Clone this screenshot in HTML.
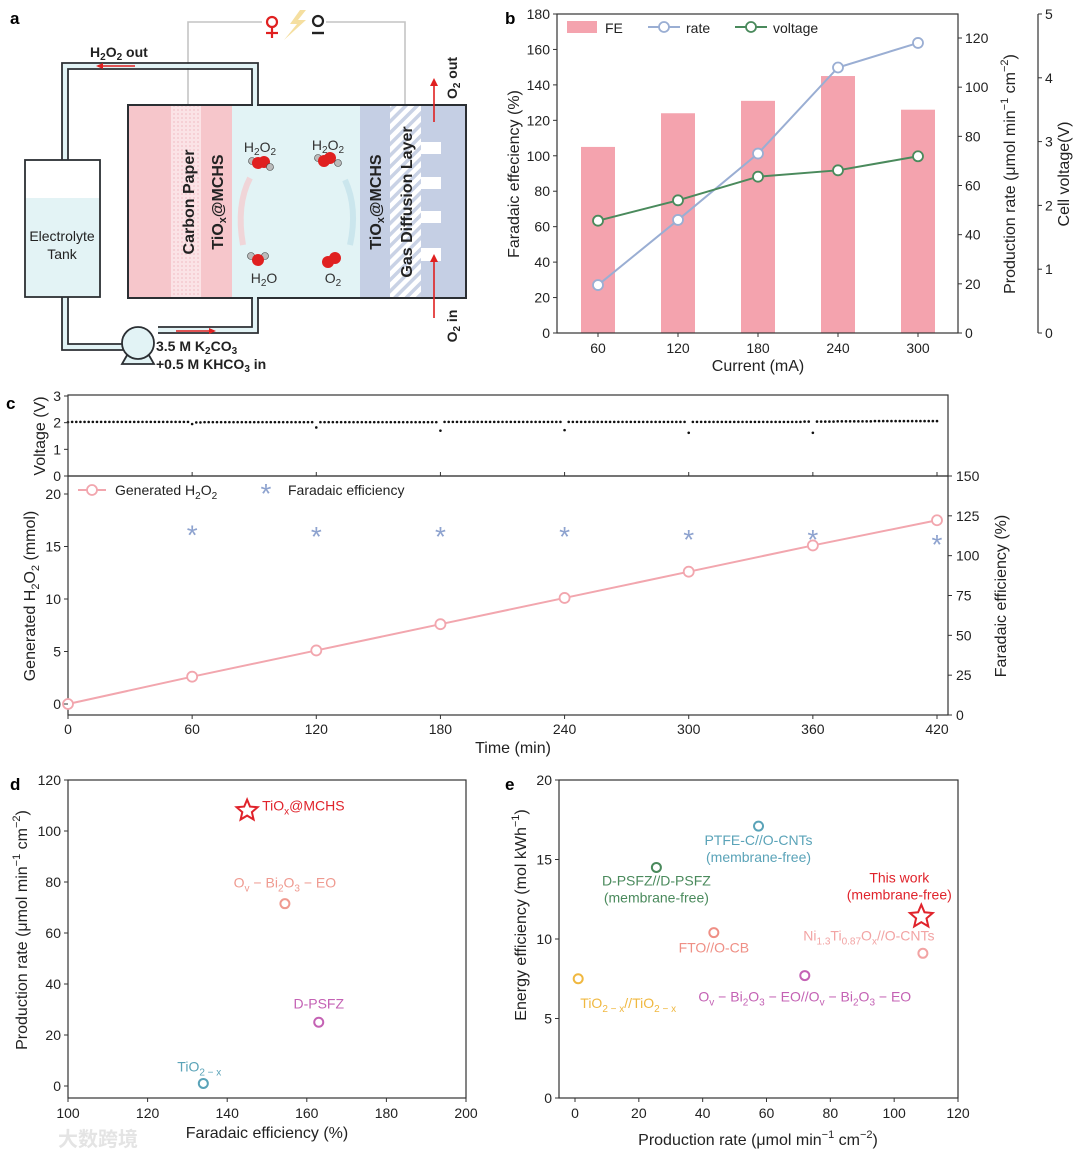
<!DOCTYPE html>
<html><head><meta charset="utf-8">
<style>
html,body{margin:0;padding:0;background:#fff;}
svg{display:block;font-family:"Liberation Sans","Noto Sans CJK SC",sans-serif;}
</style></head>
<body>
<svg id="fig" width="1080" height="1158" viewBox="0 0 1080 1158" xmlns="http://www.w3.org/2000/svg">
<defs>
<pattern id="hatch" width="8" height="8" patternUnits="userSpaceOnUse" patternTransform="rotate(45)">
<rect width="8" height="8" fill="#fff"/><rect width="3.5" height="8" fill="#c9d2e5"/></pattern>
<pattern id="dots" width="4" height="4" patternUnits="userSpaceOnUse">
<rect width="4" height="4" fill="#fbe3e6"/><circle cx="2" cy="2" r="0.9" fill="#f3c3c9"/></pattern>
</defs>

<!-- ================= PANEL A ================= -->
<g>
<text x="10" y="24" font-size="17" font-weight="bold">a</text>
<polyline points="188,105 188,22 262,22" fill="none" stroke="#c4c4c4" stroke-width="1.6"/>
<polyline points="326,22 405,22 405,105" fill="none" stroke="#c4c4c4" stroke-width="1.6"/>
<g>
<circle cx="272" cy="22" r="5" fill="none" stroke="#e02020" stroke-width="2.2"/>
<line x1="272" y1="27" x2="272" y2="38" stroke="#e02020" stroke-width="2.2"/>
<line x1="266" y1="33" x2="278" y2="33" stroke="#e02020" stroke-width="2.2"/>
<polygon points="300,10 290,24 297,24 284,40 306,20 298,20 306,10" fill="#f5dfa0"/>
<circle cx="318" cy="21" r="5" fill="none" stroke="#222" stroke-width="2.2"/>
<line x1="312" y1="33" x2="324" y2="33" stroke="#222" stroke-width="2.4"/>
</g>
<g fill="none" stroke="#2b2f33" stroke-width="1.8">
<path d="M62,160 V63 H258 V105" />
<path d="M68,160 V69 H252 V105" />
<path d="M252,298 V327 H158" />
<path d="M258,298 V333 H158" />
<path d="M62,297 V350 H125" />
<path d="M68,297 V344 H125" />
</g>
<path d="M65,160 V66 H255 V105 M255,298 V330 H158 M65,297 V347 H125" fill="none" stroke="#e2f3f5" stroke-width="4"/>
<line x1="135" y1="66" x2="98" y2="66" stroke="#e02020" stroke-width="1.5"/>
<polygon points="96,66 103,63 103,69" fill="#e02020"/>
<line x1="176" y1="331" x2="212" y2="331" stroke="#e02020" stroke-width="1.5"/>
<polygon points="216,331 209,328 209,334" fill="#e02020"/>
<text x="90" y="57" font-size="14" font-weight="bold" fill="#222">H<tspan font-size="10" dy="3">2</tspan><tspan dy="-3">O</tspan><tspan font-size="10" dy="3">2</tspan><tspan dy="-3"> out</tspan></text>
<g>
<rect x="25" y="160" width="75" height="137" fill="#fff" stroke="#2b2f33" stroke-width="1.8"/>
<rect x="26" y="198" width="73" height="98" fill="#e3f3f5"/>
<text x="62" y="241" font-size="14" text-anchor="middle" fill="#222">Electrolyte</text>
<text x="62" y="259" font-size="14" text-anchor="middle" fill="#222">Tank</text>
</g>
<g>
<polygon points="122,364 154,364 146,350 130,350" fill="#e2f3f5" stroke="#2b2f33" stroke-width="1.8"/>
<circle cx="138" cy="343" r="16" fill="#e2f3f5" stroke="#2b2f33" stroke-width="1.8"/>
</g>
<text x="156" y="351" font-size="14" font-weight="bold" fill="#222">3.5 M K<tspan font-size="10" dy="3">2</tspan><tspan dy="-3">CO</tspan><tspan font-size="10" dy="3">3</tspan></text>
<text x="156" y="369" font-size="14" font-weight="bold" fill="#222">+0.5 M KHCO<tspan font-size="10" dy="3">3</tspan><tspan dy="-3"> in</tspan></text>
<g>
<rect x="128" y="105" width="338" height="193" fill="#e2f3f5"/>
<rect x="128" y="105" width="43" height="193" fill="#f6c6cb"/>
<rect x="171" y="105" width="30" height="193" fill="url(#dots)"/>
<rect x="201" y="105" width="31" height="193" fill="#f6c6cb"/>
<rect x="360" y="105" width="30" height="193" fill="#c5cfe4"/>
<rect x="390" y="105" width="31" height="193" fill="url(#hatch)"/>
<rect x="421" y="105" width="45" height="193" fill="#c5cfe4"/>
<rect x="421" y="142" width="20" height="12" fill="#fff"/>
<rect x="421" y="177" width="20" height="12" fill="#fff"/>
<rect x="421" y="211" width="20" height="12" fill="#fff"/>
<rect x="421" y="248" width="20" height="13" fill="#fff"/>
<rect x="128" y="105" width="338" height="193" fill="none" stroke="#2b2f33" stroke-width="2"/>
<line x1="253" y1="105" x2="257" y2="105" stroke="#e2f3f5" stroke-width="3"/>
<line x1="253" y1="298" x2="257" y2="298" stroke="#e2f3f5" stroke-width="3"/>
</g>
<text transform="translate(194,202) rotate(-90)" font-size="16" font-weight="bold" text-anchor="middle" fill="#222">Carbon Paper</text>
<text transform="translate(223,202) rotate(-90)" font-size="16" font-weight="bold" text-anchor="middle" fill="#222">TiO<tspan font-size="11" dy="3">x</tspan><tspan dy="-3">@MCHS</tspan></text>
<text transform="translate(381,202) rotate(-90)" font-size="16" font-weight="bold" text-anchor="middle" fill="#222">TiO<tspan font-size="11" dy="3">x</tspan><tspan dy="-3">@MCHS</tspan></text>
<text transform="translate(412,202) rotate(-90)" font-size="16" font-weight="bold" text-anchor="middle" fill="#222">Gas Diffusion Layer</text>
<line x1="434" y1="122" x2="434" y2="84" stroke="#e02020" stroke-width="1.6"/>
<polygon points="434,78 430,86 438,86" fill="#e02020"/>
<line x1="434" y1="318" x2="434" y2="260" stroke="#e02020" stroke-width="1.6"/>
<polygon points="434,254 430,262 438,262" fill="#e02020"/>
<text transform="translate(457,78) rotate(-90)" font-size="14" font-weight="bold" text-anchor="middle" fill="#222">O<tspan font-size="10" dy="3">2</tspan><tspan dy="-3"> out</tspan></text>
<text transform="translate(457,326) rotate(-90)" font-size="14" font-weight="bold" text-anchor="middle" fill="#222">O<tspan font-size="10" dy="3">2</tspan><tspan dy="-3"> in</tspan></text>
<path d="M243,245 Q236,205 250,178" fill="none" stroke="#f4cdd1" stroke-width="6" opacity="0.8"/>
<path d="M350,245 Q358,208 345,180" fill="none" stroke="#c9e4ec" stroke-width="6" opacity="0.9"/>
<g>
<circle cx="252" cy="161" r="3.5" fill="#bbb" stroke="#444" stroke-width="0.6"/><circle cx="258" cy="163" r="6" fill="#e02020"/><circle cx="264" cy="162" r="6" fill="#e02020"/><circle cx="270" cy="167" r="3.5" fill="#bbb" stroke="#444" stroke-width="0.6"/>
</g>
<text x="260" y="152" font-size="14" text-anchor="middle" fill="#333">H<tspan font-size="10" dy="3">2</tspan><tspan dy="-3">O</tspan><tspan font-size="10" dy="3">2</tspan></text>
<g>
<circle cx="318" cy="158" r="3.5" fill="#bbb" stroke="#444" stroke-width="0.6"/><circle cx="324" cy="161" r="6" fill="#e02020"/><circle cx="330" cy="158" r="6" fill="#e02020"/><circle cx="338" cy="163" r="3.5" fill="#bbb" stroke="#444" stroke-width="0.6"/>
</g>
<text x="328" y="150" font-size="14" text-anchor="middle" fill="#333">H<tspan font-size="10" dy="3">2</tspan><tspan dy="-3">O</tspan><tspan font-size="10" dy="3">2</tspan></text>
<g>
<circle cx="251" cy="256" r="3.5" fill="#bbb" stroke="#444" stroke-width="0.6"/><circle cx="265" cy="256" r="3.5" fill="#bbb" stroke="#444" stroke-width="0.6"/><circle cx="258" cy="260" r="6" fill="#e02020"/>
</g>
<text x="264" y="283" font-size="14" text-anchor="middle" fill="#333">H<tspan font-size="10" dy="3">2</tspan><tspan dy="-3">O</tspan></text>
<g>
<circle cx="328" cy="262" r="6" fill="#e02020"/><circle cx="335" cy="258" r="6" fill="#e02020"/>
</g>
<text x="333" y="283" font-size="14" text-anchor="middle" fill="#333">O<tspan font-size="10" dy="3">2</tspan></text>
</g>

<text x="505" y="24" font-size="17" font-weight="bold">b</text>
<text x="6" y="409" font-size="17" font-weight="bold">c</text>
<text x="10" y="790" font-size="17" font-weight="bold">d</text>
<text x="505" y="790" font-size="17" font-weight="bold">e</text>
<text x="58" y="1146" font-size="20" font-weight="bold" fill="#e4e4e4">大数跨境</text>

<g id="gb"></g>
<g id="gc"></g>
<g id="gd"></g>
<g id="ge"></g>
</svg>

<script>
// ---------- data: panel b ----------
const bCurrents = [60, 120, 180, 240, 300];
const bFE = [105, 124, 131, 145, 126];
const bRate = [19.5, 46, 73, 108, 118];
const bVoltage = [1.76, 2.08, 2.45, 2.55, 2.77];
const bFETicks = [0, 20, 40, 60, 80, 100, 120, 140, 160, 180];
const bRateTicks = [0, 20, 40, 60, 80, 100, 120];
const bVoltTicks = [0, 1, 2, 3, 4, 5];
// ---------- data: panel c ----------
const cTimes = [0, 60, 120, 180, 240, 300, 360, 420];
const cH2O2 = [0, 2.6, 5.1, 7.6, 10.1, 12.6, 15.1, 17.5];
const cFE = [null, 114, 113, 113, 113, 111, 111, 108];
const cVoltStep = 2;
const cVoltage = [
2.02,2.03,2.03,2.03,2.03,2.03,2.03,2.03,2.03,2.03,
2.03,2.03,2.03,2.03,2.03,2.03,2.03,2.03,2.03,2.03,
2.03,2.03,2.03,2.03,2.03,2.03,2.03,2.03,2.03,2.03,
1.95,2.01,2.01,2.02,2.02,2.02,2.02,2.02,2.02,2.02,
2.02,2.02,2.02,2.02,2.02,2.02,2.02,2.02,2.02,2.02,
2.02,2.02,2.02,2.02,2.02,2.02,2.02,2.02,2.02,2.02,
1.82,2.02,2.02,2.02,2.02,2.02,2.02,2.02,2.02,2.02,
2.02,2.02,2.02,2.02,2.02,2.02,2.02,2.02,2.02,2.02,
2.02,2.02,2.02,2.02,2.02,2.02,2.02,2.02,2.02,2.02,
1.70,2.03,2.03,2.03,2.03,2.03,2.03,2.03,2.03,2.03,
2.03,2.03,2.03,2.03,2.03,2.03,2.03,2.03,2.03,2.03,
2.03,2.03,2.03,2.03,2.03,2.03,2.03,2.03,2.03,2.03,
1.72,2.03,2.03,2.03,2.03,2.03,2.03,2.03,2.03,2.03,
2.03,2.03,2.03,2.03,2.03,2.03,2.03,2.03,2.03,2.03,
2.03,2.03,2.03,2.03,2.03,2.03,2.03,2.03,2.03,2.03,
1.62,2.03,2.03,2.03,2.03,2.03,2.03,2.03,2.03,2.03,
2.03,2.03,2.03,2.03,2.03,2.03,2.03,2.03,2.03,2.03,
2.03,2.03,2.03,2.03,2.03,2.03,2.03,2.03,2.04,2.04,
1.62,2.04,2.04,2.04,2.04,2.04,2.05,2.05,2.05,2.05,
2.05,2.05,2.05,2.05,2.05,2.06,2.06,2.06,2.06,2.06,
2.06,2.06,2.06,2.06,2.06,2.06,2.06,2.06,2.06,2.06,
2.06];
const cTimeTicks = [0, 60, 120, 180, 240, 300, 360, 420];
const cH2O2Ticks = [0, 5, 10, 15, 20];
const cFETicks = [0, 25, 50, 75, 100, 125, 150];
const cVoltTicks = [0, 1, 2, 3];
// ---------- data: panel d ----------
const dNames = ["TiOx@MCHS", "Ov-Bi2O3-EO", "D-PSFZ", "TiO2-x"];
const dFE = [145, 154.5, 163, 134];
const dRate = [108, 71.5, 25, 1];
const dXTicks = [100, 120, 140, 160, 180, 200];
const dYTicks = [0, 20, 40, 60, 80, 100, 120];
// ---------- data: panel e ----------
const eNames = ["PTFE-C//O-CNTs", "D-PSFZ//D-PSFZ", "This work", "FTO//O-CB", "Ni1.3Ti0.87Ox//O-CNTs", "Ov-Bi2O3-EO//Ov-Bi2O3-EO", "TiO2-x//TiO2-x"];
const eRate = [57.5, 25.5, 108.5, 43.5, 109, 72, 1];
const eEE = [17.1, 14.5, 11.4, 10.4, 9.1, 7.7, 7.5];
const eXTicks = [0, 20, 40, 60, 80, 100, 120];
const eYTicks = [0, 5, 10, 15, 20];

const NS = "http://www.w3.org/2000/svg";
function mk(tag, attrs, parent) {
  const e = document.createElementNS(NS, tag);
  for (const k in attrs) e.setAttribute(k, attrs[k]);
  parent.appendChild(e);
  return e;
}
function lin(d0, d1, r0, r1) { return v => r0 + (v - d0) * (r1 - r0) / (d1 - d0); }
function txt(parent, x, y, s, opts) {
  const t = mk("text", Object.assign({x: x, y: y, "font-size": 14, fill: "#222"}, opts || {}), parent);
  t.innerHTML = s;
  return t;
}
function starPts(cx, cy, R, r) {
  let p = [];
  for (let i = 0; i < 10; i++) {
    const a = -Math.PI / 2 + i * Math.PI / 5, rr = i % 2 ? r : R;
    p.push((cx + rr * Math.cos(a)).toFixed(1) + "," + (cy + rr * Math.sin(a)).toFixed(1));
  }
  return p.join(" ");
}
const sub = s => '<tspan font-size="10" dy="4">' + s + '</tspan><tspan dy="-4">';

// ================= PANEL B =================
(function () {
  const g = document.getElementById("gb");
  const L = 557, R = 958, T = 14, B = 333;
  const xs = lin(60, 300, 598, 918);
  const yFE = lin(0, 180, B, T);
  const yRate = lin(0, 120, B, 38);
  const yV = lin(0, 5, B, T);
  for (let i = 0; i < bCurrents.length; i++) {
    const r = mk("rect", {x: xs(bCurrents[i]) - 17, y: yFE(bFE[i]), width: 34, height: B - yFE(bFE[i]), fill: "#f4a3ae"}, g);
    
    
  }
  const rl = mk("polyline", {points: bCurrents.map((c, i) => xs(c) + "," + yRate(bRate[i])).join(" "), fill: "none", stroke: "#9aaed3", "stroke-width": 2}, g);
  
  
  const vl = mk("polyline", {points: bCurrents.map((c, i) => xs(c) + "," + yV(bVoltage[i])).join(" "), fill: "none", stroke: "#4a8a5c", "stroke-width": 2}, g);
  
  
  for (let i = 0; i < bCurrents.length; i++) {
    const a = mk("circle", {cx: xs(bCurrents[i]), cy: yRate(bRate[i]), r: 5, fill: "#fff", stroke: "#9aaed3", "stroke-width": 1.8}, g);
    
    
    const b = mk("circle", {cx: xs(bCurrents[i]), cy: yV(bVoltage[i]), r: 5, fill: "#fff", stroke: "#4a8a5c", "stroke-width": 1.8}, g);
    
    
  }
  const fr = mk("rect", {x: L, y: T, width: R - L, height: B - T, fill: "none", stroke: "#333", "stroke-width": 1.2}, g);
  
  
  const va = mk("line", {x1: 1038, y1: T, x2: 1038, y2: B, stroke: "#333", "stroke-width": 1.2}, g);
  
  
  bFETicks.forEach(v => {
    mk("line", {x1: L - 4, y1: yFE(v), x2: L, y2: yFE(v), stroke: "#333"}, g);
    const t = txt(g, L - 7, yFE(v) + 5, v, {"text-anchor": "end"});
    
    
  });
  bRateTicks.forEach(v => {
    mk("line", {x1: R, y1: yRate(v), x2: R + 4, y2: yRate(v), stroke: "#333"}, g);
    const t = txt(g, R + 7, yRate(v) + 5, v);
    
    
  });
  bVoltTicks.forEach(v => {
    mk("line", {x1: 1038, y1: yV(v), x2: 1042, y2: yV(v), stroke: "#333"}, g);
    const t = txt(g, 1045, yV(v) + 5, v);
    
    
  });
  bCurrents.forEach(c => {
    mk("line", {x1: xs(c), y1: B, x2: xs(c), y2: B + 4, stroke: "#333"}, g);
    const t = txt(g, xs(c), B + 20, c, {"text-anchor": "middle"});
    
    
  });
  let t = txt(g, 758, 371, "Current (mA)", {"text-anchor": "middle", "font-size": 16});
  
  
  t = txt(g, 0, 0, "Faradaic effeciency (%)", {"text-anchor": "middle", "font-size": 16, transform: "translate(519,174) rotate(-90)"});
  
  
  t = txt(g, 0, 0, 'Production rate (μmol min<tspan font-size="11" dy="-7">−1</tspan><tspan dy="7"> cm</tspan><tspan font-size="11" dy="-7">−2</tspan><tspan dy="7">)</tspan>', {"text-anchor": "middle", "font-size": 16, transform: "translate(1015,174) rotate(-90)"});
  
  
  t = txt(g, 0, 0, "Cell voltage(V)", {"text-anchor": "middle", "font-size": 16, transform: "translate(1069,174) rotate(-90)"});
  
  
  const lg = mk("g", {}, g);
  
  
  mk("rect", {x: 567, y: 21, width: 30, height: 12, fill: "#f4a3ae"}, lg);
  txt(lg, 605, 33, "FE");
  mk("line", {x1: 648, y1: 27, x2: 680, y2: 27, stroke: "#9aaed3", "stroke-width": 2}, lg);
  mk("circle", {cx: 664, cy: 27, r: 5, fill: "#fff", stroke: "#9aaed3", "stroke-width": 1.8}, lg);
  txt(lg, 686, 33, "rate");
  mk("line", {x1: 735, y1: 27, x2: 767, y2: 27, stroke: "#4a8a5c", "stroke-width": 2}, lg);
  mk("circle", {cx: 751, cy: 27, r: 5, fill: "#fff", stroke: "#4a8a5c", "stroke-width": 1.8}, lg);
  txt(lg, 773, 33, "voltage");
})();

// ================= PANEL C =================
(function () {
  const g = document.getElementById("gc");
  const L = 68, R = 948, VT = 395, VB = 476, T = 476, B = 715;
  const xs = lin(0, 420, 68, 937);
  const yVolt = lin(0, 3, VB, VT + 1);
  const yH = lin(0, 20, 704, 494);
  const yF = lin(0, 150, B, T);
  for (let i = 0; i < cVoltage.length; i++) {
    const d = mk("circle", {cx: xs(i * cVoltStep), cy: yVolt(cVoltage[i]), r: 1.3, fill: "#111"}, g);
    
    
  }
  let f = mk("rect", {x: L, y: VT, width: R - L, height: VB - VT, fill: "none", stroke: "#333", "stroke-width": 1.2}, g);
  
  
  f = mk("rect", {x: L, y: T, width: R - L, height: B - T, fill: "none", stroke: "#333", "stroke-width": 1.2}, g);
  
  
  const hl = mk("polyline", {points: cTimes.map((t, i) => xs(t) + "," + yH(cH2O2[i])).join(" "), fill: "none", stroke: "#f2a6ae", "stroke-width": 2}, g);
  
  
  cTimes.forEach((t, i) => {
    const c = mk("circle", {cx: xs(t), cy: yH(cH2O2[i]), r: 5, fill: "#fff", stroke: "#f2a6ae", "stroke-width": 1.8}, g);
    
    
    if (cFE[i] != null) {
      const s = mk("text", {x: xs(t), y: yF(cFE[i]) + 11, "font-size": 28, fill: "#8ea3cf", "text-anchor": "middle"}, g);
      s.textContent = "*";
      
      
    }
  });
  cTimeTicks.forEach(v => {
    mk("line", {x1: xs(v), y1: B, x2: xs(v), y2: B + 4, stroke: "#333"}, g);
    mk("line", {x1: xs(v), y1: VB, x2: xs(v), y2: VB - 4, stroke: "#333"}, g);
    const t = txt(g, xs(v), B + 19, v, {"text-anchor": "middle"});
    
    
  });
  cVoltTicks.forEach(v => {
    mk("line", {x1: L - 4, y1: yVolt(v), x2: L, y2: yVolt(v), stroke: "#333"}, g);
    const t = txt(g, L - 7, yVolt(v) + 5, v, {"text-anchor": "end"});
    
    
  });
  cH2O2Ticks.forEach(v => {
    mk("line", {x1: L - 4, y1: yH(v), x2: L, y2: yH(v), stroke: "#333"}, g);
    const t = txt(g, L - 7, yH(v) + 5, v, {"text-anchor": "end"});
    
    
  });
  cFETicks.forEach(v => {
    mk("line", {x1: R, y1: yF(v), x2: R + 4, y2: yF(v), stroke: "#333"}, g);
    const t = txt(g, R + 8, yF(v) + 5, v);
    
    
  });
  let t = txt(g, 513, 753, "Time (min)", {"text-anchor": "middle", "font-size": 16});
  
  
  t = txt(g, 0, 0, "Voltage (V)", {"text-anchor": "middle", "font-size": 16, transform: "translate(45,436) rotate(-90)"});
  
  
  t = txt(g, 0, 0, 'Generated H<tspan font-size="11" dy="4">2</tspan><tspan dy="-4">O</tspan><tspan font-size="11" dy="4">2</tspan><tspan dy="-4"> (mmol)</tspan>', {"text-anchor": "middle", "font-size": 16, transform: "translate(35,596) rotate(-90)"});
  
  
  t = txt(g, 0, 0, "Faradaic efficiency (%)", {"text-anchor": "middle", "font-size": 16, transform: "translate(1006,596) rotate(-90)"});
  
  
  const lg = mk("g", {}, g);
  
  
  mk("line", {x1: 78, y1: 490, x2: 106, y2: 490, stroke: "#f2a6ae", "stroke-width": 2}, lg);
  mk("circle", {cx: 92, cy: 490, r: 5, fill: "#fff", stroke: "#f2a6ae", "stroke-width": 1.8}, lg);
  txt(lg, 115, 495, 'Generated H' + sub("2") + 'O</tspan>' + sub("2") + '</tspan>');
  const s = mk("text", {x: 266, y: 503, "font-size": 28, fill: "#8ea3cf", "text-anchor": "middle"}, lg);
  s.textContent = "*";
  txt(lg, 288, 495, "Faradaic efficiency");
})();

// ================= PANEL D =================
(function () {
  const g = document.getElementById("gd");
  const L = 68, R = 466, T = 780, B = 1098;
  const xs = lin(100, 200, L, R);
  const ys = lin(0, 120, 1086, T);
  const colors = ["#e0232b", "#ef9a90", "#c462b4", "#5aa3b8"];
  const labels = ['TiO' + sub("x") + '@MCHS</tspan>', 'O' + sub("v") + ' − Bi</tspan>' + sub("2") + 'O</tspan>' + sub("3") + ' − EO</tspan>', 'D-PSFZ', 'TiO' + sub("2 − x") + '</tspan>'];
  const lab = [[15, 0, "start"], [0, -16, "middle"], [0, -14, "middle"], [-4, -12, "middle"]];
  for (let i = 0; i < dNames.length; i++) {
    const cx = xs(dFE[i]), cy = ys(dRate[i]);
    let m;
    if (i === 0) m = mk("polygon", {points: starPts(cx, cy, 11, 5), fill: "#fff", stroke: colors[i], "stroke-width": 2}, g);
    else m = mk("circle", {cx: cx, cy: cy, r: 4.5, fill: "#fff", stroke: colors[i], "stroke-width": 2}, g);
    
    
    const t = txt(g, cx + lab[i][0], cy + lab[i][1], labels[i], {fill: colors[i], "text-anchor": lab[i][2]});
    
    
  }
  const f = mk("rect", {x: L, y: T, width: R - L, height: B - T, fill: "none", stroke: "#333", "stroke-width": 1.2}, g);
  
  
  dXTicks.forEach(v => {
    mk("line", {x1: xs(v), y1: B, x2: xs(v), y2: B + 4, stroke: "#333"}, g);
    const t = txt(g, xs(v), B + 20, v, {"text-anchor": "middle"});
    
    
  });
  dYTicks.forEach(v => {
    mk("line", {x1: L - 4, y1: ys(v), x2: L, y2: ys(v), stroke: "#333"}, g);
    const t = txt(g, L - 7, ys(v) + 5, v, {"text-anchor": "end"});
    
    
  });
  let t = txt(g, 267, 1138, "Faradaic efficiency (%)", {"text-anchor": "middle", "font-size": 16});
  
  
  t = txt(g, 0, 0, 'Production rate (μmol min<tspan font-size="11" dy="-7">−1</tspan><tspan dy="7"> cm</tspan><tspan font-size="11" dy="-7">−2</tspan><tspan dy="7">)</tspan>', {"text-anchor": "middle", "font-size": 16, transform: "translate(27,930) rotate(-90)"});
  
  
})();

// ================= PANEL E =================
(function () {
  const g = document.getElementById("ge");
  const L = 559, R = 958, T = 780, B = 1098;
  const xs = lin(0, 120, 575, R);
  const ys = lin(0, 20, B, T);
  const colors = ["#5aa3b8", "#4a8a5c", "#e0232b", "#ef8f85", "#f2a4a4", "#c462b4", "#f0b840"];
  const labels = [
    ["PTFE-C//O-CNTs", "(membrane-free)"],
    ["D-PSFZ//D-PSFZ", "(membrane-free)"],
    ["This work", "(membrane-free)"],
    ["FTO//O-CB"],
    ['Ni' + sub("1.3") + 'Ti</tspan>' + sub("0.87") + 'O</tspan>' + sub("x") + '//O-CNTs</tspan>'],
    ['O' + sub("v") + ' − Bi</tspan>' + sub("2") + 'O</tspan>' + sub("3") + ' − EO//O</tspan>' + sub("v") + ' − Bi</tspan>' + sub("2") + 'O</tspan>' + sub("3") + ' − EO</tspan>'],
    ['TiO' + sub("2 − x") + '//TiO</tspan>' + sub("2 − x") + '</tspan>']
  ];
  const lab = [[0, 19], [0, 18], [-22, -34], [0, 20], [-54, -13], [0, 26], [50, 29]];
  for (let i = 0; i < eNames.length; i++) {
    const cx = xs(eRate[i]), cy = ys(eEE[i]);
    let m;
    if (i === 2) m = mk("polygon", {points: starPts(cx, cy, 12, 5.5), fill: "#fff", stroke: colors[i], "stroke-width": 2}, g);
    else m = mk("circle", {cx: cx, cy: cy, r: 4.5, fill: "#fff", stroke: colors[i], "stroke-width": 2}, g);
    
    
    labels[i].forEach((s, j) => {
      const t = txt(g, cx + lab[i][0], cy + lab[i][1] + j * 17, s, {fill: colors[i], "text-anchor": "middle"});
      
      
    });
  }
  const f = mk("rect", {x: L, y: T, width: R - L, height: B - T, fill: "none", stroke: "#333", "stroke-width": 1.2}, g);
  
  
  eXTicks.forEach(v => {
    mk("line", {x1: xs(v), y1: B, x2: xs(v), y2: B + 4, stroke: "#333"}, g);
    const t = txt(g, xs(v), B + 20, v, {"text-anchor": "middle"});
    
    
  });
  eYTicks.forEach(v => {
    mk("line", {x1: L - 4, y1: ys(v), x2: L, y2: ys(v), stroke: "#333"}, g);
    const t = txt(g, L - 7, ys(v) + 5, v, {"text-anchor": "end"});
    
    
  });
  let t = txt(g, 758, 1145, 'Production rate (μmol min<tspan font-size="11" dy="-7">−1</tspan><tspan dy="7"> cm</tspan><tspan font-size="11" dy="-7">−2</tspan><tspan dy="7">)</tspan>', {"text-anchor": "middle", "font-size": 16});
  
  
  t = txt(g, 0, 0, 'Energy efficiency (mol kWh<tspan font-size="11" dy="-7">−1</tspan><tspan dy="7">)</tspan>', {"text-anchor": "middle", "font-size": 16, transform: "translate(526,915) rotate(-90)"});
  
  
})();
</script>
</body></html>
